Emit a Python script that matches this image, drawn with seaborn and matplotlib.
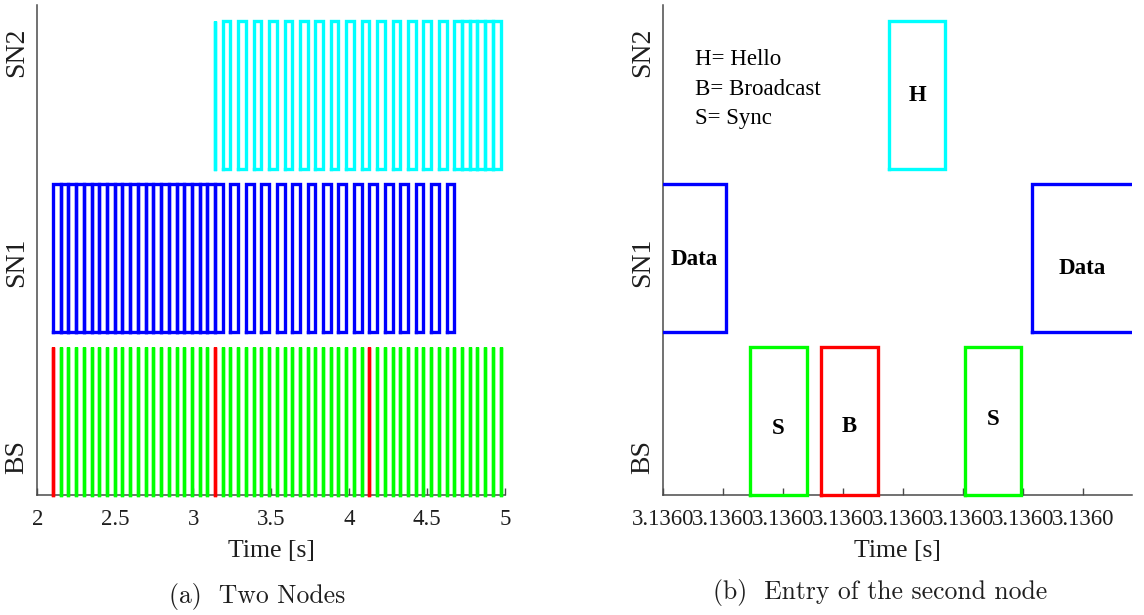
import matplotlib
matplotlib.use("Agg")
import matplotlib.pyplot as plt
from matplotlib.ticker import FormatStrFormatter
import pandas as pd
import seaborn as sns

# ---------------- (a) Two Nodes: packet schedule, 2-5 s ----------------
# BS sync pulses (green) and broadcast pulses (red), in seconds
bs_sync_t = [2.150, 2.200, 2.249, 2.299, 2.348, 2.398, 2.447, 2.497, 2.546, 2.596,
             2.645, 2.695, 2.744, 2.794, 2.843, 2.893, 2.942, 2.992, 3.041, 3.091,
             3.190, 3.239, 3.289, 3.338, 3.388, 3.437, 3.487, 3.536, 3.586, 3.635,
             3.685, 3.734, 3.784, 3.833, 3.883, 3.932, 3.982, 4.031, 4.081,
             4.180, 4.229, 4.279, 4.328, 4.378, 4.427, 4.477, 4.526, 4.576, 4.625,
             4.675, 4.724, 4.774, 4.823, 4.873, 4.922, 4.972]
bs_bcast_t = [2.101, 3.140, 4.130]

# SN1 data packets (blue): start / end times
sn1_start = [2.101, 2.150, 2.200, 2.249, 2.299, 2.348, 2.398, 2.447, 2.497, 2.546,
             2.596, 2.645, 2.695, 2.744, 2.794, 2.843, 2.893, 2.942, 2.992, 3.041,
             3.091, 3.140,
             3.239, 3.338, 3.437, 3.536, 3.635, 3.734, 3.833, 3.932, 4.031, 4.130,
             4.229, 4.328, 4.427, 4.526, 4.625]
sn1_end = [2.150, 2.200, 2.249, 2.299, 2.348, 2.398, 2.447, 2.497, 2.546, 2.596,
           2.645, 2.695, 2.744, 2.794, 2.843, 2.893, 2.942, 2.992, 3.041, 3.091,
           3.140, 3.190,
           3.289, 3.388, 3.487, 3.586, 3.685, 3.784, 3.883, 3.982, 4.081, 4.180,
           4.279, 4.378, 4.477, 4.576, 4.675]

# SN2 packets (cyan): hello pulse, then data slots
sn2_start = [3.140,
             3.190, 3.289, 3.388, 3.487, 3.586, 3.685, 3.784, 3.883, 3.982, 4.081,
             4.180, 4.279, 4.378, 4.477, 4.576,
             4.675, 4.724, 4.774, 4.823, 4.873, 4.922]
sn2_end = [3.140,
           3.239, 3.338, 3.437, 3.536, 3.635, 3.734, 3.833, 3.932, 4.031, 4.130,
           4.229, 4.328, 4.427, 4.526, 4.625,
           4.724, 4.774, 4.823, 4.873, 4.922, 4.972]

# ---------------- (b) Entry of the second node, around t = 3.1360 s ----------------
zoom_node = ["SN1", "BS", "BS", "SN2", "BS", "SN1"]
zoom_kind = ["Data", "S", "B", "H", "S", "Data"]
zoom_start = [3.1359950, 3.1360072, 3.1360131, 3.1360188, 3.1360251, 3.1360307]
zoom_end = [3.1360052, 3.1360120, 3.1360179, 3.1360235, 3.1360298, 3.1360450]
zoom_label_y = [1.59, 0.45, 0.46, 2.70, 0.51, 1.53]

node_names = ["BS", "SN1", "SN2"]
legend_lines = ["H= Hello", "B= Broadcast", "S= Sync"]
time_ticks_a = [2, 2.5, 3, 3.5, 4, 4.5, 5]

# vertical band of each node
row_lo = {"BS": 0.0, "SN1": 1.1, "SN2": 2.2}
row_h = 1.0
kind_color = {"Data": "#0000ff", "S": "#00ff00", "B": "#ff0000", "H": "#00ffff"}

sns.set_style("ticks")
plt.rcParams["font.family"] = ["Liberation Serif", "DejaVu Serif"]

SERIF = ["Liberation Serif", "DejaVu Serif"]
SPINE = "#4a4a4a"
INK = "#1e1e1e"
LW = 2.4


def outline_frame(starts, ends, lo, hi, tag):
    """Closed rectangle outline for every packet."""
    rows = []
    for i, (s, e) in enumerate(zip(starts, ends)):
        for x, y in ((s, lo), (s, hi), (e, hi), (e, lo), (s, lo)):
            rows.append({"t": x, "level": y, "pulse": f"{tag}{i}"})
    return pd.DataFrame(rows)


def draw_packets(ax, df, color, clip=False):
    sns.lineplot(data=df, x="t", y="level", units="pulse", estimator=None,
                 sort=False, color=color, lw=LW, ax=ax, legend=False,
                 solid_capstyle="projecting", solid_joinstyle="miter",
                 clip_on=clip, zorder=3)


def style_axes(ax):
    for side in ("top", "right"):
        ax.spines[side].set_visible(False)
    for side in ("left", "bottom"):
        ax.spines[side].set_color(SPINE)
        ax.spines[side].set_linewidth(1.1)
    ax.set_ylim(0, 3.31)
    ax.set_yticks([0.26, 1.57, 2.99])
    ax.set_yticklabels(node_names, rotation=90, va="center", fontsize=20,
                       family=SERIF, color=INK)
    ax.tick_params(axis="y", length=0, pad=6)
    ax.tick_params(axis="x", direction="in", length=5, width=1.0,
                   color=SPINE, labelsize=16.5, pad=10, labelcolor=INK)
    for lab in ax.get_xticklabels():
        lab.set_family(SERIF)
    ax.set_xlabel("Time [s]", fontsize=18.5, family=SERIF, color=INK,
                  labelpad=7)
    ax.set_ylabel("")


fig = plt.figure(figsize=(11.44, 6.15), dpi=100)
ax_a = fig.add_axes([0.0326, 0.1951, 0.4088, 0.7967])
ax_b = fig.add_axes([0.5798, 0.1951, 0.4097, 0.7967])

# ---- panel (a)
draw_packets(ax_a, outline_frame(sn1_start, sn1_end, row_lo["SN1"],
                                 row_lo["SN1"] + row_h, "sn1_"), "#0000ff")
draw_packets(ax_a, outline_frame(sn2_start, sn2_end, row_lo["SN2"],
                                 row_lo["SN2"] + row_h, "sn2_"), "#00ffff")
draw_packets(ax_a, outline_frame(bs_sync_t, bs_sync_t, row_lo["BS"],
                                 row_lo["BS"] + row_h, "sync_"), "#00ff00")
draw_packets(ax_a, outline_frame(bs_bcast_t, bs_bcast_t, row_lo["BS"],
                                 row_lo["BS"] + row_h, "bc_"), "#ff0000")
ax_a.set_xlim(2, 5)
ax_a.set_xticks(time_ticks_a)
ax_a.xaxis.set_major_formatter(FormatStrFormatter("%g"))
style_axes(ax_a)

# ---- panel (b)
t0_b = 3.1360
step_b = 5e-6
for node, kind, s, e in zip(zoom_node, zoom_kind, zoom_start, zoom_end):
    lo = row_lo[node]
    df = outline_frame([s], [e], lo, lo + row_h, f"{kind}{s}")
    draw_packets(ax_b, df, kind_color[kind], clip=(kind == "Data"))
xmax_b = t0_b + 7.81 * step_b
ax_b.set_xlim(t0_b, xmax_b)
for kind, s, e, ly in zip(zoom_kind, zoom_start, zoom_end, zoom_label_y):
    xc = (max(s, t0_b) + min(e, xmax_b)) / 2
    ax_b.text(xc, ly, kind, ha="center", va="center", fontsize=16.5,
              fontweight="bold", family=SERIF, color="black", zorder=4)
ax_b.set_xticks([t0_b + i * step_b for i in range(8)])
ax_b.xaxis.set_major_formatter(FormatStrFormatter("%.4f"))
style_axes(ax_b)
for i, line in enumerate(legend_lines):
    ax_b.text(0.068, 0.888 - i * 0.0595, line, transform=ax_b.transAxes,
              ha="left", va="center", fontsize=16.5, family=SERIF,
              color="black")

# ---- captions
fig.text(256.7 / 1144, 1 - 596 / 615, "(a)  Two Nodes", ha="center",
         va="center", fontsize=18.5, family="cmr10", color=INK)
fig.text(880 / 1144, 1 - 593 / 615, "(b)  Entry of the second node",
         ha="center", va="center", fontsize=18.5, family="cmr10", color=INK)

fig.savefig("out.png", dpi=100, facecolor="white")
